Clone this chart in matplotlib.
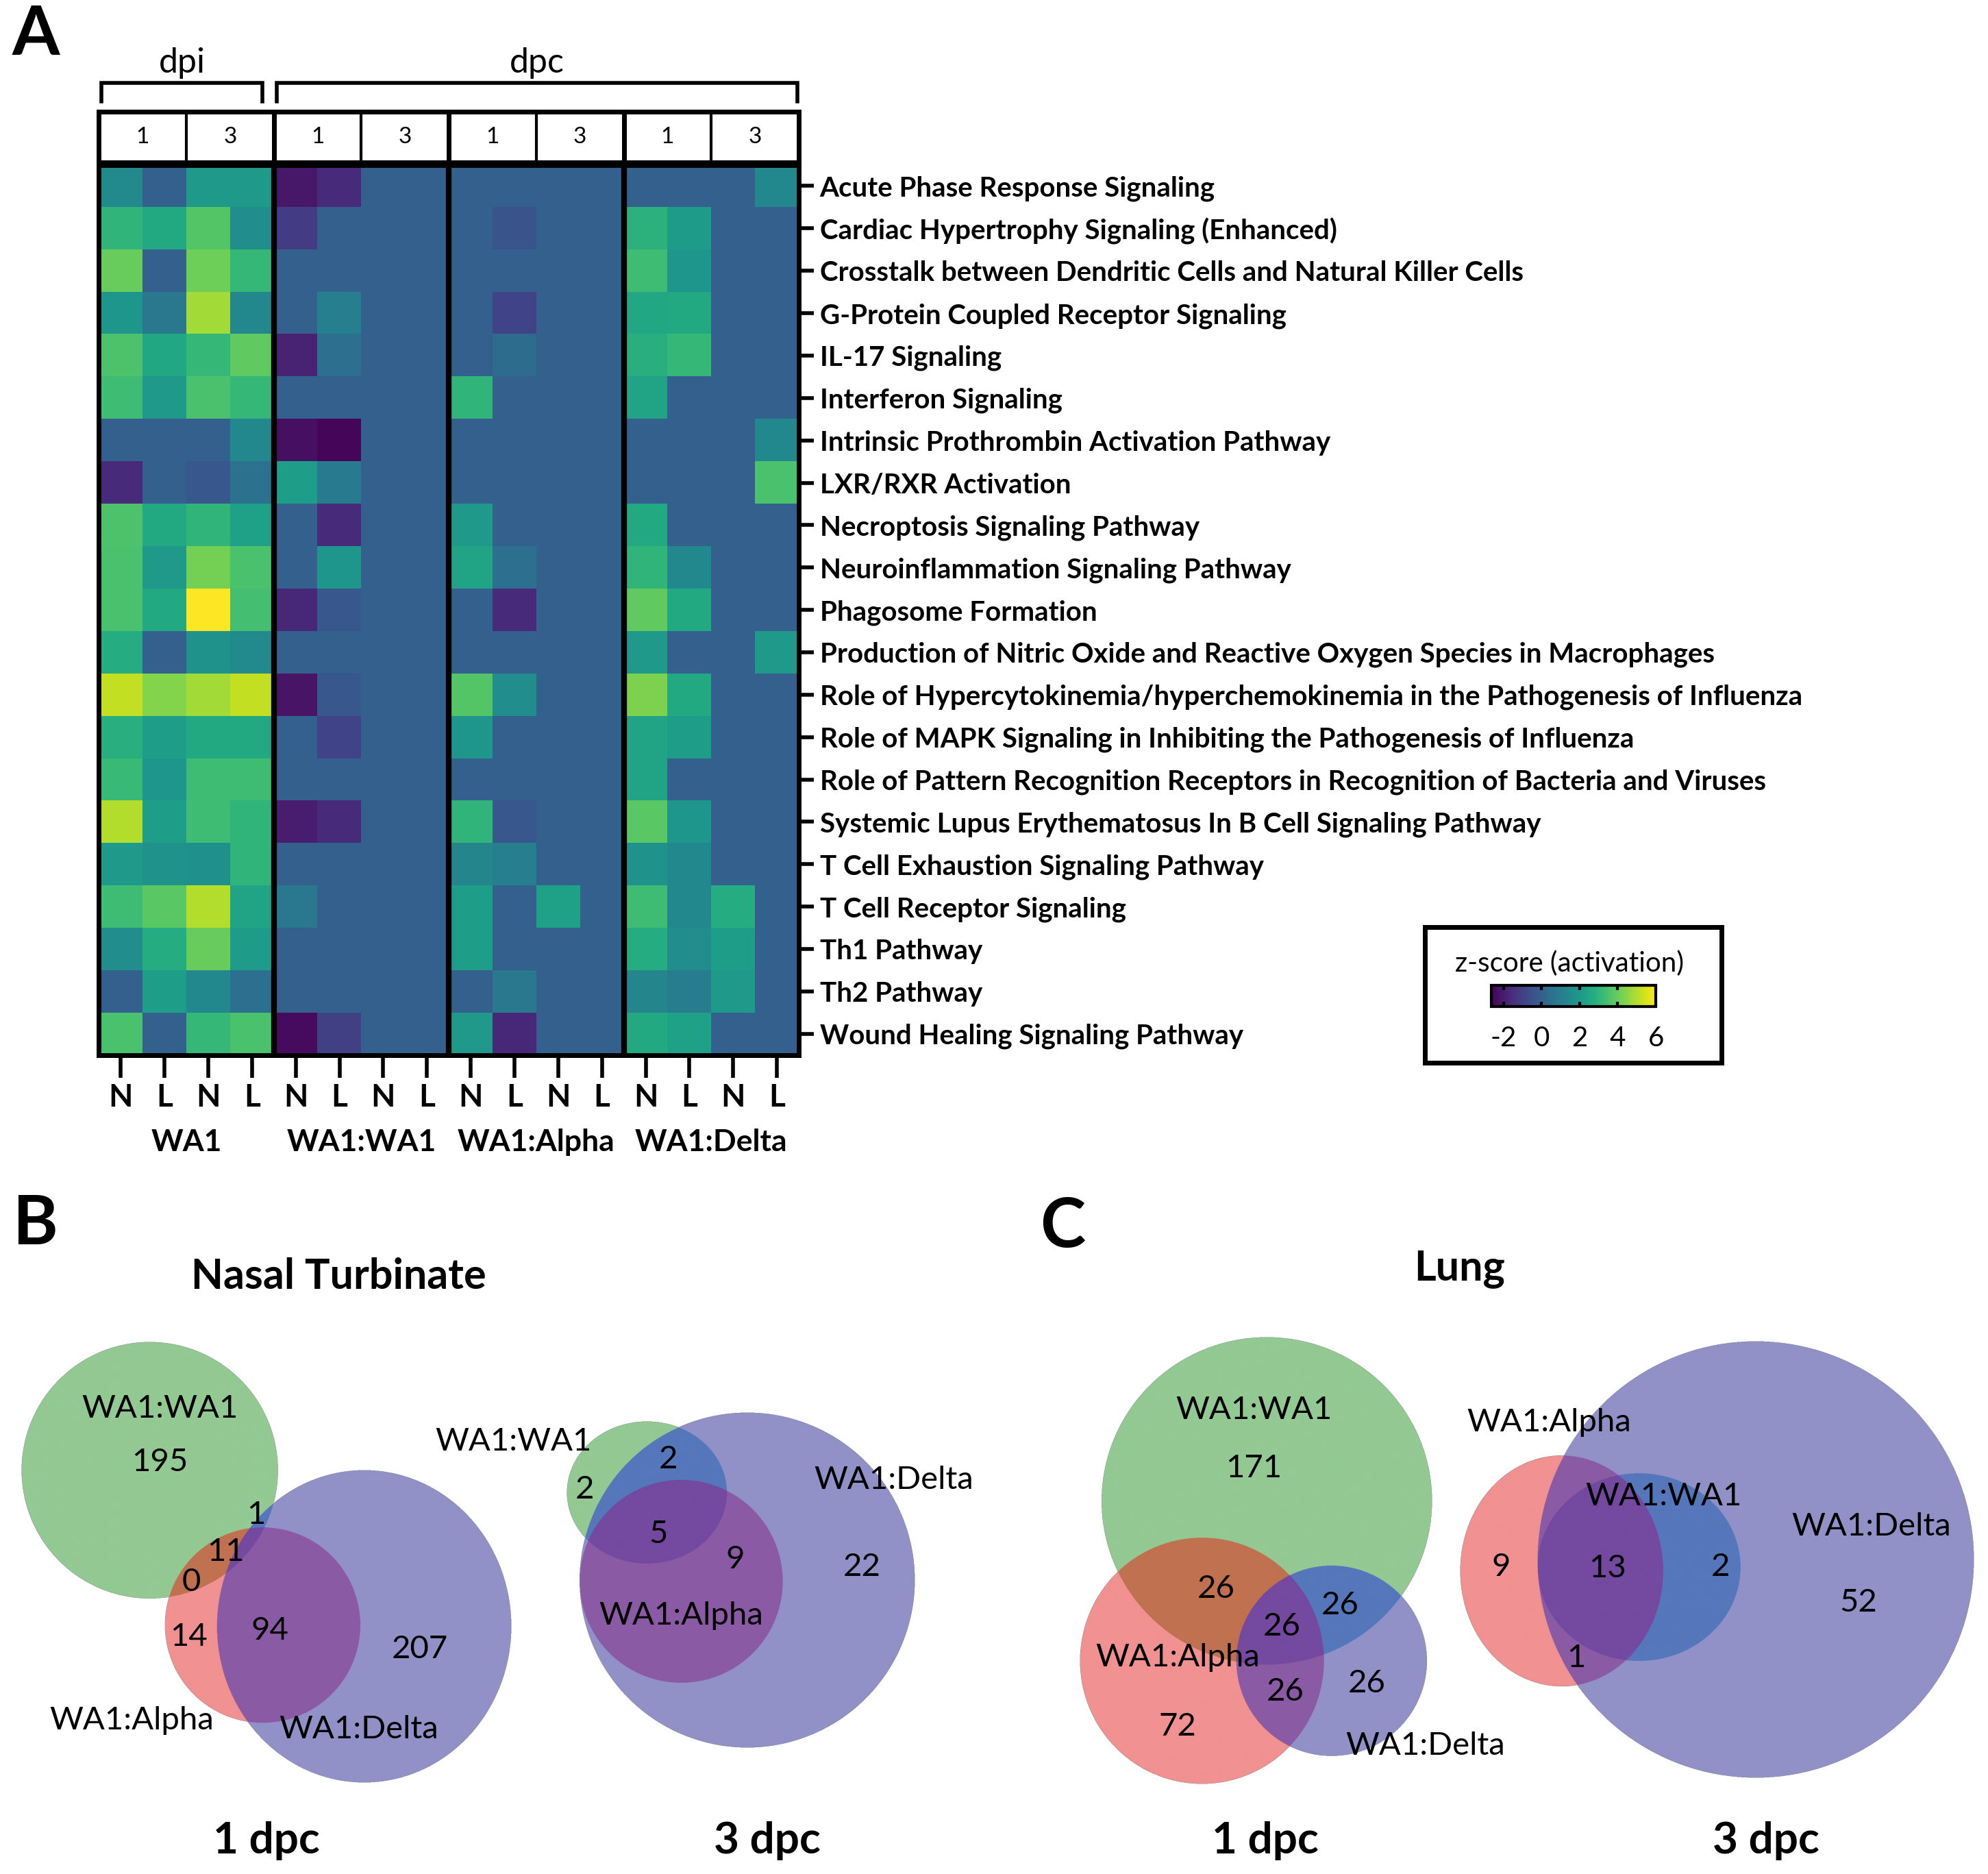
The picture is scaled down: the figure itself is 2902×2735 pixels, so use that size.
import numpy as np
import matplotlib
matplotlib.use("Agg")
import matplotlib.pyplot as plt
from matplotlib.patches import Rectangle
from matplotlib.colors import to_rgba

plt.rcParams['font.family'] = ['Lato', 'DejaVu Sans']

# - - - - - - - - - - DATA - - - - - - - - - -
pathways = [
    "Acute Phase Response Signaling",
    "Cardiac Hypertrophy Signaling (Enhanced)",
    "Crosstalk between Dendritic Cells and Natural Killer Cells",
    "G-Protein Coupled Receptor Signaling",
    "IL-17 Signaling",
    "Interferon Signaling",
    "Intrinsic Prothrombin Activation Pathway",
    "LXR/RXR Activation",
    "Necroptosis Signaling Pathway",
    "Neuroinflammation Signaling Pathway",
    "Phagosome Formation",
    "Production of Nitric Oxide and Reactive Oxygen Species in Macrophages",
    "Role of Hypercytokinemia/hyperchemokinemia in the Pathogenesis of Influenza",
    "Role of MAPK Signaling in Inhibiting the Pathogenesis of Influenza",
    "Role of Pattern Recognition Receptors in Recognition of Bacteria and Viruses",
    "Systemic Lupus Erythematosus In B Cell Signaling Pathway",
    "T Cell Exhaustion Signaling Pathway",
    "T Cell Receptor Signaling",
    "Th1 Pathway",
    "Th2 Pathway",
    "Wound Healing Signaling Pathway",
]
groups = ["WA1", "WA1:WA1", "WA1:Alpha", "WA1:Delta"]
tissues = ["N", "L", "N", "L"]
days = ["1", "3"]

# columns per group: day1 N, day1 L, day3 N, day3 L
wa1_z = [
    [1.5, 0, 2.0, 2.0], [3.0, 2.6, 3.7, 1.6], [4.0, 0, 4.1, 3.1], [1.9, 0.8, 4.8, 1.4],
    [3.6, 2.5, 3.1, 3.9], [3.3, 2.0, 3.5, 3.1], [0, 0, 0, 1.4], [-1.6, 0, -0.3, 0.6],
    [3.6, 2.6, 3.0, 2.3], [3.5, 2.0, 4.2, 3.5], [3.5, 2.6, 6.0, 3.4], [2.7, 0, 1.8, 1.5],
    [5.2, 4.4, 4.8, 5.2], [2.8, 2.2, 2.6, 2.6], [3.2, 1.9, 3.3, 3.3], [5.0, 2.2, 3.3, 3.0],
    [2.0, 1.8, 1.7, 3.0], [3.3, 3.8, 5.0, 2.4], [1.6, 2.7, 4.0, 2.1], [0, 2.2, 1.4, 0.5],
    [3.5, 0, 3.1, 3.5],
]
wa1wa1_z = [
    [-2.1, -1.6, 0, 0], [-1.1, 0, 0, 0], [0, 0, 0, 0], [0, 1.1, 0, 0],
    [-1.8, 0.5, 0, 0], [0, 0, 0, 0], [-2.3, -2.5, 0, 0], [2.2, 0.9, 0, 0],
    [0, -1.6, 0, 0], [0, 1.9, 0, 0], [-1.7, -0.3, 0, 0], [0, 0, 0, 0],
    [-2.2, -0.3, 0, 0], [0, -0.9, 0, 0], [0, 0, 0, 0], [-2.0, -1.6, 0, 0],
    [0, 0, 0, 0], [0.8, 0, 0, 0], [0, 0, 0, 0], [0, 0, 0, 0],
    [-2.4, -1.0, 0, 0],
]
wa1alpha_z = [
    [0, 0, 0, 0], [0, -0.4, 0, 0], [0, 0, 0, 0], [0, -0.9, 0, 0],
    [0, 0.4, 0, 0], [3.0, 0, 0, 0], [0, 0, 0, 0], [0, 0, 0, 0],
    [2.0, 0, 0, 0], [2.4, 0.5, 0, 0], [0, -1.6, 0, 0], [0, 0, 0, 0],
    [3.7, 1.6, 0, 0], [1.9, 0, 0, 0], [0, 0, 0, 0], [3.0, -0.3, 0, 0],
    [1.3, 1.1, 0, 0], [2.2, 0, 2.3, 0], [2.2, 0, 0, 0], [0, 0.8, 0, 0],
    [2.0, -1.7, 0, 0],
]
wa1delta_z = [
    [0, 0, 0, 1.4], [2.9, 2.1, 0, 0], [3.3, 1.9, 0, 0], [2.5, 2.6, 0, 0],
    [2.8, 3.1, 0, 0], [2.4, 0, 0, 0], [0, 0, 0, 1.4], [0, 0, 0, 3.5],
    [2.6, 0, 0, 0], [3.0, 1.4, 0, 0], [3.9, 2.6, 0, 0], [2.0, 0, 0, 2.0],
    [4.3, 2.6, 0, 0], [2.4, 2.2, 0, 0], [2.4, 0, 0, 0], [3.8, 1.9, 0, 0],
    [1.8, 1.4, 0, 0], [3.3, 1.4, 2.7, 0], [2.7, 1.6, 2.2, 0], [1.3, 1.0, 2.0, 0],
    [2.6, 2.3, 0, 0],
]
cbar_ticks = [-2, 0, 2, 4, 6]

# Venn region counts
nt_1dpc_counts = [195, 1, 11, 0, 14, 94, 207]
nt_3dpc_counts = [2, 2, 5, 9, 22]
lung_1dpc_counts = [171, 26, 26, 26, 26, 26, 72]
lung_3dpc_counts = [9, 13, 2, 1, 52]

# - - - - - - - - - - LAYOUT - - - - - - - - - -
W, H = 1568, 1478  # layout units, figure is 2902x2735 px
fig = plt.figure(figsize=(29.02, 27.35), dpi=100)


def rect(x0, y0, x1, y1):
    return [x0 / W, 1 - y1 / H, (x1 - x0) / W, (y1 - y0) / H]


bg = fig.add_axes([0, 0, 1, 1])
bg.axis('off')

# - - - - - - - - - - PANEL A: HEATMAP - - - - - - - - - -
z = np.hstack([np.array(g) for g in (wa1_z, wa1wa1_z, wa1alpha_z, wa1delta_z)])
ax = fig.add_axes(rect(78, 130, 630, 832))
im = ax.imshow(z, cmap='viridis', vmin=-2.65, vmax=6, aspect='auto', interpolation='nearest')

ax.set_xticks(range(z.shape[1]))
ax.set_xticklabels(tissues * 4, fontsize=33, fontweight='bold')
ax.tick_params(axis='x', length=24, width=4, pad=6)
ax.yaxis.tick_right()
ax.set_yticks(range(len(pathways)))
ax.set_yticklabels(pathways, fontsize=29, fontweight='bold')
ax.tick_params(axis='y', length=16, width=4, pad=6)
for s in ax.spines.values():
    s.set_linewidth(5)
for xs in [3.5, 7.5, 11.5]:
    ax.axvline(xs, color='black', lw=6)

# header boxes with day numbers
top, bot = -1.756, -0.556
for g in range(4):
    ax.add_patch(Rectangle((4 * g - 0.5, top), 4, bot - top, fill=False, lw=5,
                           edgecolor='black', clip_on=False))
    ax.plot([4 * g + 1.5] * 2, [top, bot], color='black', lw=3, clip_on=False)
    for k, d in enumerate(days):
        ax.text(4 * g + 0.5 + 2 * k, (top + bot) / 2, d, ha='center', va='center', fontsize=24)
    ax.text(4 * g + 1.5, 22.56, groups[g], ha='center', va='center', fontsize=32, fontweight='bold')

# dpi / dpc brackets
for x0, x1, lab in [(-0.44, 3.24, 'dpi'), (3.56, 15.47, 'dpc')]:
    ax.plot([x0, x0, x1, x1], [-2.0, -2.44, -2.44, -2.0], color='black', lw=4,
            clip_on=False, solid_joinstyle='miter')
    ax.text((x0 + x1) / 2, -2.9, lab, ha='center', va='center', fontsize=36)
ax.set_xlim(-0.5, 15.5)
ax.set_ylim(20.5, -0.5)

# colorbar legend
cax = fig.add_axes(rect(1176, 777, 1306, 794))
cb = fig.colorbar(im, cax=cax, orientation='horizontal', ticks=cbar_ticks)
cb.outline.set_linewidth(3)
cb.set_ticklabels([str(t) for t in cbar_ticks])
cax.tick_params(direction='in', length=5, width=3, top=True, bottom=True, labelsize=29, pad=20)
bg.text(1238, 760, 'z-score (activation)', ha='center', va='center', fontsize=29)
bg.add_patch(Rectangle((1124, 731), 234, 107, fill=False, lw=5, edgecolor='black'))

# - - - - - - - - - - PANELS B, C: VENNS - - - - - - - - - -
# region colour by membership (green, red, blue)
venn_colors = {
    (1, 0, 0): '#93c993', (0, 1, 0): '#f19191', (0, 0, 1): '#9191c8',
    (1, 1, 0): '#c0714f', (1, 0, 1): '#5577bb', (0, 1, 1): '#8b5aa5',
    (1, 1, 1): '#7449a0',
}


def draw_venn(circles, labels, counts, count_pos):
    x0 = min(c[0] - c[2] for c in circles) - 2
    x1 = max(c[0] + c[2] for c in circles) + 2
    y0 = min(c[1] - c[3] for c in circles) - 2
    y1 = max(c[1] + c[3] for c in circles) + 2
    step = 0.25
    gx = np.arange(x0, x1, step) + step / 2
    gy = np.arange(y0, y1, step) + step / 2
    X, Y = np.meshgrid(gx, gy)
    masks = [((X - cx) / rx) ** 2 + ((Y - cy) / ry) ** 2 <= 1 for cx, cy, rx, ry in circles]
    img = np.zeros(X.shape + (4,))
    for key, col in venn_colors.items():
        sel = (masks[0] == key[0]) & (masks[1] == key[1]) & (masks[2] == key[2])
        img[sel] = to_rgba(col)
    bg.imshow(img, extent=(x0, x0 + len(gx) * step, y0 + len(gy) * step, y0),
              aspect='auto', interpolation='antialiased')
    for txt, (x, y) in labels:
        bg.text(x, y, txt, ha='center', va='center', fontsize=34)
    for c, (x, y) in zip(counts, count_pos):
        bg.text(x, y, str(c), ha='center', va='center', fontsize=34)


# circles given as green (WA1:WA1), red (WA1:Alpha), blue (WA1:Delta)
draw_venn([(118, 1160, 101, 101), (207, 1282, 77, 77), (287, 1283, 116, 123)],
          [('WA1:WA1', (126, 1111)), ('WA1:Alpha', (104, 1357)), ('WA1:Delta', (283, 1364))],
          nt_1dpc_counts,
          [(126, 1153), (202, 1195), (178, 1224), (151, 1248), (149, 1291), (213, 1286), (331, 1301)])

draw_venn([(510, 1177, 63, 56), (537, 1247, 80, 80), (589, 1246, 132, 132)],
          [('WA1:WA1', (405, 1137)), ('WA1:Delta', (705, 1167)), ('WA1:Alpha', (537, 1274))],
          nt_3dpc_counts,
          [(461, 1175), (527, 1151), (519, 1210), (580, 1230), (680, 1236)])

draw_venn([(999, 1184, 130, 129), (948, 1310, 96, 97), (1050, 1310, 75, 75)],
          [('WA1:WA1', (989, 1112)), ('WA1:Alpha', (929, 1307)), ('WA1:Delta', (1124, 1377))],
          lung_1dpc_counts,
          [(989, 1158), (959, 1253), (1057, 1266), (1011, 1283), (1014, 1334), (1078, 1328), (929, 1362)])

draw_venn([(1293, 1236, 80, 74), (1232, 1239, 80, 91), (1385, 1230, 172, 172)],
          [('WA1:Alpha', (1222, 1122)), ('WA1:WA1', (1312, 1180)), ('WA1:Delta', (1476, 1204))],
          lung_3dpc_counts,
          [(1184, 1236), (1268, 1237), (1357, 1236), (1243, 1308), (1466, 1264)])

for txt, x, y in [('Nasal Turbinate', 267, 1007), ('Lung', 1151, 1001)]:
    bg.text(x, y, txt, ha='center', va='center', fontsize=44, fontweight='bold')
for txt, x in [('1 dpc', 210), ('3 dpc', 605), ('1 dpc', 998), ('3 dpc', 1393)]:
    bg.text(x, 1452, txt, ha='center', va='center', fontsize=46, fontweight='bold')
for txt, x, y in [('A', 28, 28), ('B', 28, 966), ('C', 838, 968)]:
    bg.text(x, y, txt, ha='center', va='center', fontsize=72, fontweight='bold')

bg.set_xlim(0, W)
bg.set_ylim(H, 0)

fig.savefig('out.png', dpi=100)
